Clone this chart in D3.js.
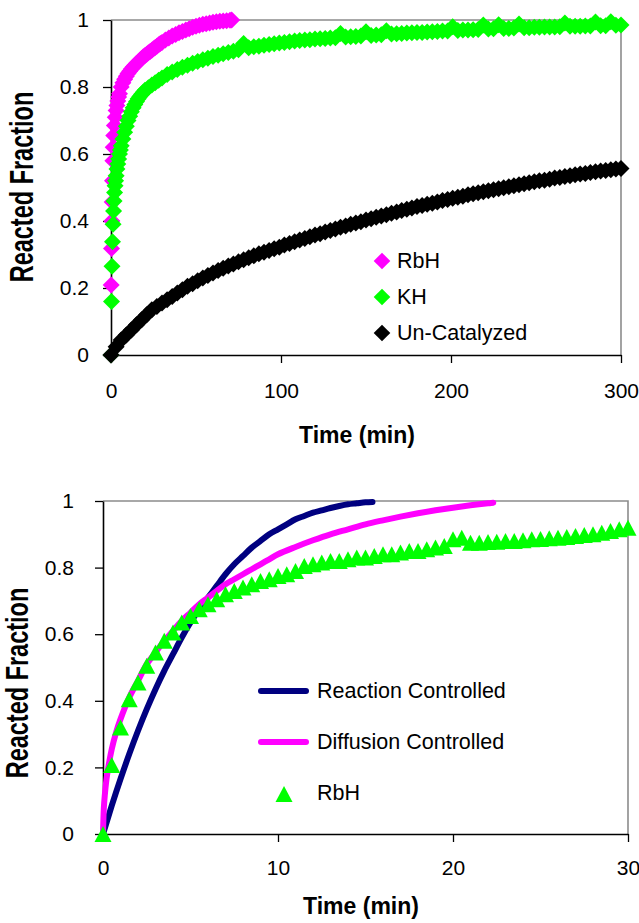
<!DOCTYPE html>
<html>
<head>
<meta charset="utf-8">
<script src="https://cdn.jsdelivr.net/npm/d3@7"></script>
<style>
  html, body { margin: 0; padding: 0; background: #fff; }
  svg { display: block; }
  text { font-family: "Liberation Sans", Arial, Helvetica, sans-serif; fill: #000; }
</style>
</head>
<body>
<svg id="chart" width="639" height="923"></svg>
<script>
// ---------- Top panel: conversion vs time (diamond markers) ----------
const rbhTime = [0,0.1,0.3,0.5,0.7,0.9,1.1,1.3,1.6,2,2.5,3,3.5,4,4.5,5,6,7,8,9,10,11,12,13,14,15,16,17,18,19,20,21,22,23,24,25,26,27,28,29,30,32,34,36,38,40,42,44,46,48,50,52,54,56,58,60,62,64,66,68,70,71];
const rbhFrac = [0,0.209,0.318,0.40,0.457,0.52,0.58,0.62,0.655,0.685,0.71,0.73,0.745,0.758,0.77,0.78,0.80,0.813,0.823,0.832,0.84,0.847,0.854,0.86,0.865,0.87,0.875,0.88,0.885,0.89,0.894,0.898,0.902,0.906,0.91,0.914,0.918,0.922,0.926,0.93,0.933,0.94,0.946,0.952,0.957,0.962,0.966,0.97,0.974,0.978,0.981,0.984,0.987,0.989,0.991,0.993,0.995,0.996,0.997,0.998,0.999,1.0];

const khTime = [0,0.3,0.6,0.9,1.2,1.5,1.8,2.1,2.4,2.7,3,3.5,4,4.5,5,5.5,6,7,8,9,10,11,12,13,14,15,16,17,18,19,20,22,24,26,28,
  30,33,36,39,42,45,48,51,54,57,60,63,66,69,72,75,78,81,84,87,90,93,96,99,102,105,108,111,114,117,120,123,126,129,132,135,138,141,144,147,150,
  153,156,159,162,165,168,171,174,177,180,183,186,189,192,195,198,201,204,207,210,213,216,219,222,225,228,231,234,237,240,243,246,249,252,255,
  258,261,264,267,270,273,276,279,282,285,288,291,294,297,300];
const khFrac = [0,0.16,0.265,0.338,0.39,0.43,0.46,0.485,0.505,0.52,0.535,0.555,0.57,0.585,0.60,0.612,0.625,0.645,0.665,0.683,0.70,0.713,0.726,0.738,0.748,0.757,0.765,0.772,0.778,0.784,0.79,0.798,0.806,0.813,0.82,
  0.827,0.837,0.845,0.852,0.859,0.865,0.871,0.876,0.881,0.886,0.891,0.895,0.899,0.903,0.907,0.911,0.93,0.917,0.92,0.922,0.925,0.927,0.929,0.931,0.933,0.935,0.937,0.939,0.94,0.941,0.943,0.944,0.945,0.946,0.947,0.96,0.949,0.95,0.951,0.952,0.965,
  0.954,0.955,0.956,0.968,0.958,0.959,0.96,0.961,0.962,0.963,0.963,0.964,0.965,0.966,0.967,0.967,0.98,0.969,0.97,0.97,0.971,0.972,0.985,0.973,0.974,0.986,0.975,0.975,0.976,0.988,0.977,0.977,0.978,0.978,0.979,
  0.979,0.979,0.98,0.991,0.981,0.981,0.981,0.982,0.982,0.994,0.983,0.983,0.995,0.984,0.985];

const uncatTime = [0,3,6,9,12,15,18,21,24,27,30,33,36,39,42,45,48,51,54,57,60,63,66,69,72,75,78,81,84,87,90,93,96,99,102,105,108,111,114,117,120,123,126,129,132,135,138,141,144,147,150,
  153,156,159,162,165,168,171,174,177,180,183,186,189,192,195,198,201,204,207,210,213,216,219,222,225,228,231,234,237,240,243,246,249,252,255,258,261,264,267,270,273,276,279,282,285,288,291,294,297,300];
const uncatFrac = [0,0.025,0.045,0.06,0.075,0.09,0.105,0.12,0.135,0.145,0.155,0.165,0.175,0.185,0.195,0.205,0.213,0.222,0.23,0.237,0.245,0.252,0.259,0.266,0.272,0.278,0.284,0.29,0.296,0.302,0.307,0.312,0.317,0.322,0.328,0.333,0.338,0.343,0.348,0.353,0.358,0.362,0.367,0.372,0.376,0.381,0.385,0.39,0.394,0.398,0.403,
  0.407,0.411,0.415,0.419,0.423,0.427,0.431,0.435,0.439,0.443,0.446,0.45,0.453,0.457,0.461,0.464,0.468,0.471,0.474,0.478,0.481,0.484,0.487,0.49,0.493,0.496,0.499,0.502,0.505,0.508,0.511,0.514,0.517,0.52,0.522,0.525,0.528,0.53,0.533,0.535,0.538,0.54,0.542,0.545,0.547,0.549,0.551,0.553,0.555,0.557];

const topSeriesNames = ["RbH", "KH", "Un-Catalyzed"];
const topColors = ["#FF00FF", "#00FF00", "#000000"];
const topXTicks = [0, 100, 200, 300];
const fracTicks = [0, 0.2, 0.4, 0.6, 0.8, 1];

// ---------- Bottom panel: model fits vs RbH data (0-30 min) ----------
const reactionTime = [0,0.5,1,1.5,2,2.5,3,3.5,4,4.5,5,5.5,6,6.5,7,7.5,8,8.5,9,9.5,10,10.5,11,11.5,12,12.5,13,13.5,14,14.5,15,15.4];
const reactionFrac = [0,0.085,0.165,0.24,0.31,0.375,0.435,0.49,0.54,0.59,0.635,0.675,0.71,0.745,0.78,0.81,0.835,0.86,0.88,0.9,0.915,0.93,0.945,0.955,0.965,0.972,0.979,0.985,0.99,0.993,0.996,0.997];

const diffusionTime = [0,0.05,0.1,0.2,0.35,0.5,0.75,1,1.5,2,2.5,3,3.5,4,4.5,5,5.5,6,6.5,7,7.5,8,8.5,9,9.5,10,11,12,13,14,15,16,17,18,19,20,21,22,22.3];
const diffusionFrac = [0,0.08,0.115,0.165,0.215,0.255,0.305,0.345,0.41,0.46,0.51,0.545,0.58,0.61,0.64,0.665,0.69,0.71,0.73,0.75,0.765,0.78,0.795,0.81,0.825,0.84,0.862,0.882,0.9,0.915,0.93,0.942,0.953,0.963,0.972,0.98,0.987,0.993,0.995];

const rbhPointTime = [0,0.5,1,1.5,2,2.5,3,3.5,4,4.5,5,5.5,6,6.5,7,7.5,8,8.5,9,9.5,10,10.5,11,11.5,12,12.5,13,13.5,14,14.5,15,15.5,16,16.5,17,17.5,18,18.5,19,19.5,20,20.5,21,21.5,22,22.5,23,23.5,24,24.5,25,25.5,26,26.5,27,27.5,28,28.5,29,29.5,30];
const rbhPointFrac = [0,0.207,0.32,0.405,0.455,0.505,0.545,0.58,0.605,0.635,0.655,0.675,0.69,0.705,0.72,0.73,0.74,0.75,0.76,0.765,0.775,0.78,0.79,0.805,0.81,0.815,0.82,0.82,0.825,0.83,0.83,0.835,0.84,0.84,0.845,0.85,0.85,0.855,0.86,0.865,0.885,0.89,0.875,0.875,0.877,0.878,0.88,0.88,0.882,0.885,0.886,0.888,0.89,0.892,0.895,0.898,0.90,0.905,0.91,0.915,0.92];

const bottomSeriesNames = ["Reaction Controlled", "Diffusion Controlled", "RbH"];
const bottomColors = ["#000080", "#FF00FF", "#00FF00"];
const bottomXTicks = [0, 10, 20, 30];

const xTitle = "Time (min)";
const yTitle = "Reacted Fraction";

// ---------- drawing ----------
const svg = d3.select("#chart");
const fracFormat = d => (d === 0 ? "0" : d === 1 ? "1" : d3.format(".1f")(d));
const diamond = s => `M0,${-s}L${s},0L0,${s}L${-s},0Z`;
const triangle = (w, h) => `M0,${-h / 2}L${w / 2},${h / 2}L${-w / 2},${h / 2}Z`;

function frame(g, x, y, opts) {
  const [x0, x1] = x.range();
  const [y0, y1] = y.range();
  // light grey plot-area border on top and right
  g.append("path")
    .attr("d", `M${x0},${y1}H${x1}V${y0}`)
    .attr("fill", "none").attr("stroke", "#8c8c8c").attr("stroke-width", 1.6);

  const yAxis = g.append("g").attr("transform", `translate(${x0},0)`)
    .call(d3.axisLeft(y).tickValues(fracTicks).tickFormat(fracFormat)
      .tickSize(8).tickSizeOuter(0).tickPadding(opts.yPad));
  const xAxis = g.append("g").attr("transform", `translate(0,${y0})`)
    .call(d3.axisBottom(x).tickValues(opts.xTicks).tickFormat(d3.format("d"))
      .tickSize(8).tickSizeOuter(0).tickPadding(opts.xPad));
  [yAxis, xAxis].forEach(a => {
    a.attr("font-family", null).attr("font-size", null);
    a.select(".domain").attr("stroke", "#000").attr("stroke-width", 1.6);
    a.selectAll(".tick line").attr("stroke", "#000").attr("stroke-width", 1.3);
    a.selectAll(".tick text").style("font-size", "21px").attr("fill", "#000");
  });

  g.append("text").attr("x", opts.xTitle[0]).attr("y", opts.xTitle[1])
    .attr("text-anchor", "middle").style("font-size", "23px").style("font-weight", "bold")
    .text(xTitle);
  g.append("text")
    .attr("transform", `translate(${opts.yTitle[0]},${opts.yTitle[1]}) rotate(-90) scale(1,${opts.yTitle[2]})`)
    .attr("text-anchor", "middle").style("font-size", "23.5px").style("font-weight", "bold")
    .text(yTitle);
}

// Top panel
{
  const x = d3.scaleLinear().domain([0, 300]).range([111, 621]);
  const y = d3.scaleLinear().domain([0, 1]).range([355, 20]);
  const g = svg.append("g");
  frame(g, x, y, { xTicks: topXTicks, yPad: 14, xPad: 20, xTitle: [357, 443], yTitle: [33, 187, 1.45] });

  const series = [
    { t: rbhTime, v: rbhFrac },
    { t: khTime, v: khFrac },
    { t: uncatTime, v: uncatFrac }
  ];
  series.forEach((s, i) => {
    g.append("g").selectAll("path")
      .data(d3.zip(s.t, s.v))
      .join("path")
      .attr("d", diamond(8.5))
      .attr("transform", d => `translate(${x(d[0])},${y(d[1])})`)
      .attr("fill", topColors[i]);
  });

  const leg = g.append("g");
  topSeriesNames.forEach((name, i) => {
    const cy = 261 + i * 36;
    leg.append("path").attr("d", diamond(8.3))
      .attr("transform", `translate(382,${cy})`).attr("fill", topColors[i]);
    leg.append("text").attr("x", 397).attr("y", cy + 6.8)
      .style("font-size", "21.5px").text(name);
  });
}

// Bottom panel
{
  const x = d3.scaleLinear().domain([0, 30]).range([103, 628]);
  const y = d3.scaleLinear().domain([0, 1]).range([834, 501]);
  const g = svg.append("g");
  frame(g, x, y, { xTicks: bottomXTicks, yPad: 21, xPad: 18, xTitle: [361, 914], yTitle: [28, 683, 1.35] });

  const line = d3.line().x(d => x(d[0])).y(d => y(d[1])).curve(d3.curveMonotoneX);
  g.append("path").datum(d3.zip(reactionTime, reactionFrac))
    .attr("d", line).attr("fill", "none").attr("stroke", bottomColors[0])
    .attr("stroke-width", 6).attr("stroke-linecap", "round").attr("stroke-linejoin", "round");
  g.append("path").datum(d3.zip(diffusionTime, diffusionFrac))
    .attr("d", d3.line().x(d => x(d[0])).y(d => y(d[1])).curve(d3.curveCatmullRom))
    .attr("fill", "none").attr("stroke", bottomColors[1])
    .attr("stroke-width", 6).attr("stroke-linecap", "round").attr("stroke-linejoin", "round");
  g.append("g").selectAll("path")
    .data(d3.zip(rbhPointTime, rbhPointFrac))
    .join("path")
    .attr("d", triangle(17, 16))
    .attr("transform", d => `translate(${x(d[0])},${y(d[1])})`)
    .attr("fill", bottomColors[2]);

  const leg = g.append("g");
  bottomSeriesNames.forEach((name, i) => {
    const cy = 691 + i * 51;
    if (i < 2) {
      leg.append("line").attr("x1", 261).attr("x2", 306).attr("y1", cy).attr("y2", cy)
        .attr("stroke", bottomColors[i]).attr("stroke-width", 6).attr("stroke-linecap", "round");
    } else {
      leg.append("path").attr("d", triangle(17, 16))
        .attr("transform", `translate(284,${cy + 1})`).attr("fill", bottomColors[i]);
    }
    leg.append("text").attr("x", 317).attr("y", cy + 6.8)
      .style("font-size", "21.5px").text(name);
  });
}
</script>
</body>
</html>
